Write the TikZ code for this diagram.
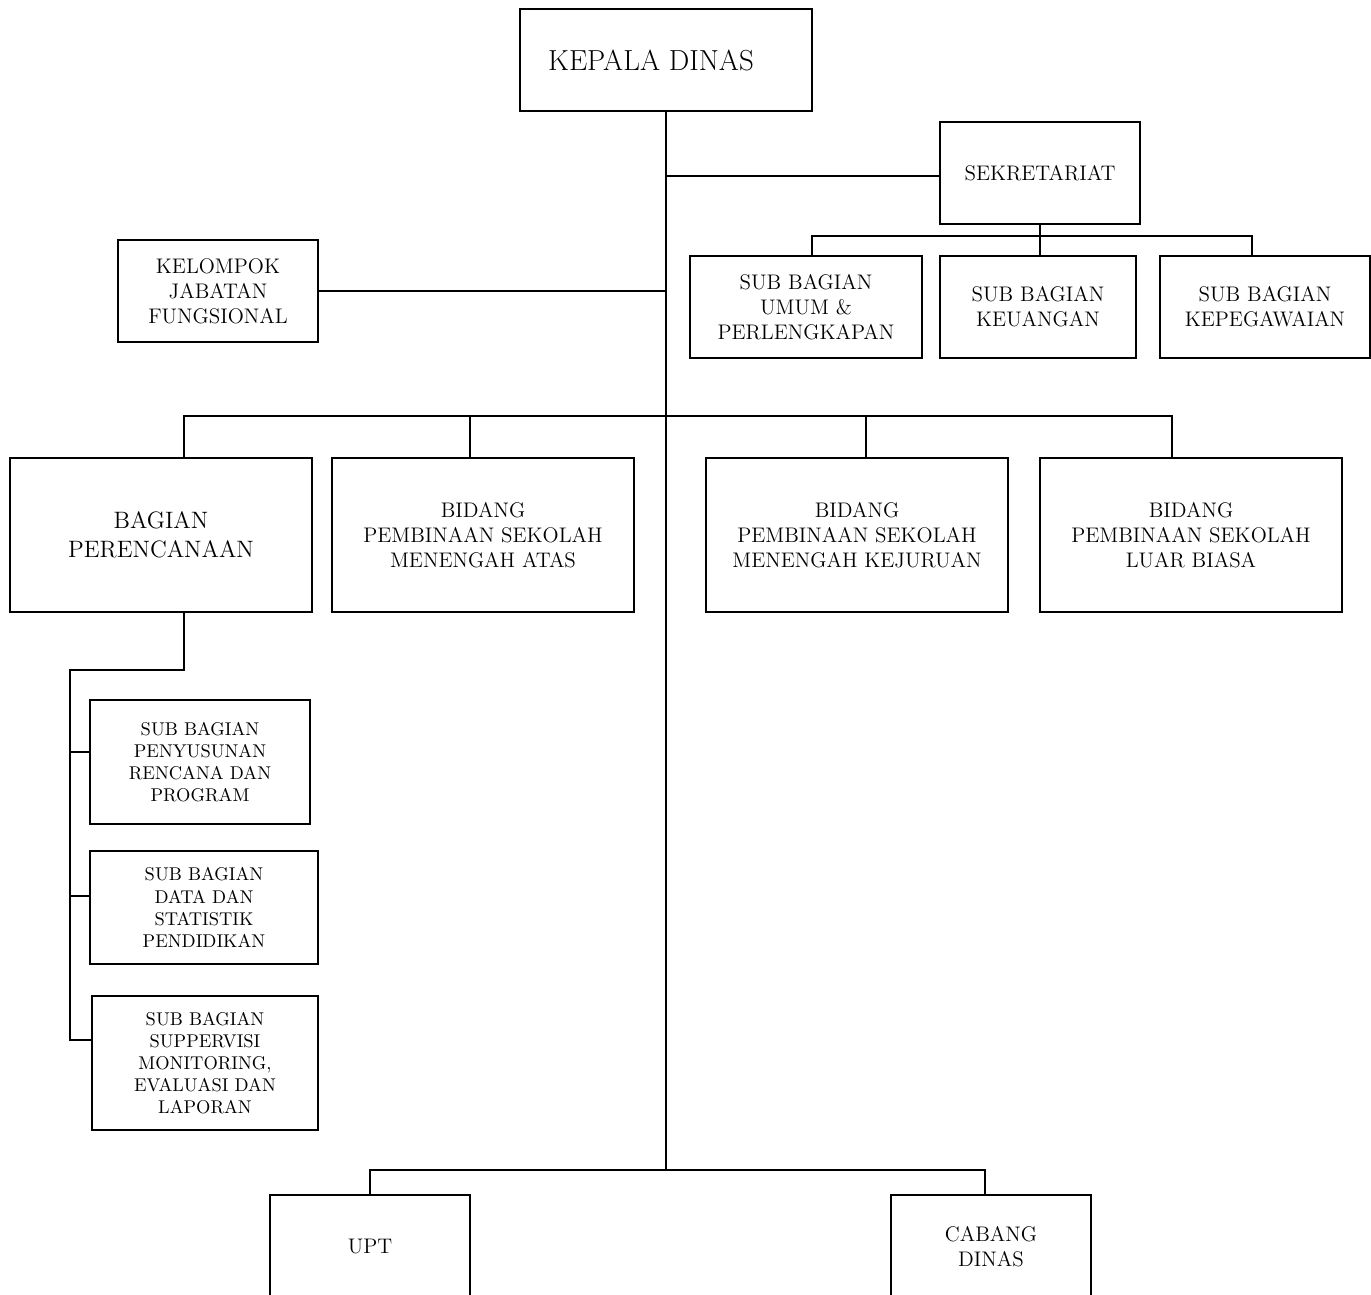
\documentclass[tikz,border=0pt]{standalone}
\usetikzlibrary{positioning}
\begin{document}
\begin{tikzpicture}[line width=1.1pt,
  box/.style={draw,align=center,inner sep=2pt},
  big/.style={font=\fontsize{16.5}{19}\selectfont},
  mid/.style={font=\fontsize{13.5}{16.5}\selectfont},
  norm/.style={font=\fontsize{12}{14.2}\selectfont},
  small/.style={font=\fontsize{10.5}{12.6}\selectfont}]
			\clip (0,0) rectangle (27.42,-25.9);
			%%% top
			\path (13.32,-1.2) node [box,big,minimum width=5.84cm,minimum height=2.04cm] (kepala) {KEPALA DINAS\hspace{0.6cm}};
			\path (20.8,-3.46) node [box,norm,minimum width=4cm,minimum height=2.04cm] (sekretariat) {SEKRETARIAT};
			\path (4.36,-5.82) node [box,norm,minimum width=4cm,minimum height=2.04cm] (kelompok) {KELOMPOK\\JABATAN\\FUNGSIONAL};
			\path (16.12,-6.14) node [box,norm,minimum width=4.64cm,minimum height=2.04cm] (umum) {SUB BAGIAN\\UMUM \&\\PERLENGKAPAN};
			\path (20.76,-6.14) node [box,norm,minimum width=3.92cm,minimum height=2.04cm] (keuangan) {SUB BAGIAN\\KEUANGAN};
			\path (25.3,-6.14) node [box,norm,minimum width=4.2cm,minimum height=2.04cm] (kepegawaian) {SUB BAGIAN\\KEPEGAWAIAN};
			%%% middle
			\path (3.22,-10.7) node [box,mid,minimum width=6.04cm,minimum height=3.08cm] (perencanaan) {BAGIAN\\PERENCANAAN};
			\path (9.66,-10.7) node [box,norm,minimum width=6.04cm,minimum height=3.08cm] (psma) {BIDANG\\PEMBINAAN SEKOLAH\\MENENGAH ATAS};
			\path (17.14,-10.7) node [box,norm,minimum width=6.04cm,minimum height=3.08cm] (psmk) {BIDANG\\PEMBINAAN SEKOLAH\\MENENGAH KEJURUAN};
			\path (23.82,-10.7) node [box,norm,minimum width=6.04cm,minimum height=3.08cm] (pslb) {BIDANG\\PEMBINAAN SEKOLAH\\LUAR BIASA};
			%%% sub bagian perencanaan
			\path (4.0,-15.24) node [box,small,minimum width=4.4cm,minimum height=2.48cm] (rencana) {SUB BAGIAN\\PENYUSUNAN\\RENCANA DAN\\PROGRAM};
			\path (4.08,-18.15) node [box,small,minimum width=4.56cm,minimum height=2.26cm] (statistik) {SUB BAGIAN\\DATA DAN\\STATISTIK\\PENDIDIKAN};
			\path (4.1,-21.26) node [box,small,minimum width=4.52cm,minimum height=2.68cm] (monev) {SUB BAGIAN\\SUPPERVISI\\MONITORING,\\EVALUASI DAN\\LAPORAN};
			%%% bottom
			\path (7.4,-24.94) node [box,norm,minimum width=4cm,minimum height=2.08cm] (upt) {UPT};
			\path (19.82,-24.94) node [box,norm,minimum width=4cm,minimum height=2.08cm] (cabang) {CABANG\\DINAS};
			%%% lines
			\coordinate (bbus) at (13.32,-23.4);
			\coordinate (mbus) at (13.32,-8.32);
			\coordinate (sbus) at (20.8,-4.72);
			\coordinate (spine) at (1.4,-13.4);
			\draw (kepala.south)--(bbus);
			\draw ([yshift=-0.06cm]sekretariat.west)--([yshift=-0.06cm]sekretariat.west -| kepala);
			\draw (kelompok.east)--(kelompok.east -| kepala);
			\draw (sekretariat.south)--(sbus)--(sbus |- keuangan.north);
			\draw ([xshift=0.12cm]umum.north)|-(sbus)-|([xshift=-0.26cm]kepegawaian.north);
			\draw ([xshift=0.46cm]perencanaan.north)|-(mbus)-|([xshift=-0.38cm]pslb.north);
			\draw ([xshift=-0.26cm]psma.north)--++(0,0.84);
			\draw ([xshift=0.18cm]psmk.north)--++(0,0.84);
			\draw ([xshift=0.46cm]perencanaan.south)|-(spine)|-([yshift=0.46cm]monev.west);
			\draw ([yshift=0.2cm]rencana.west)--++(-0.4,0);
			\draw ([yshift=0.23cm]statistik.west)--++(-0.4,0);
			\draw (upt.north)|-(bbus)-|([xshift=-0.12cm]cabang.north);
		\end{tikzpicture}
\end{document}
